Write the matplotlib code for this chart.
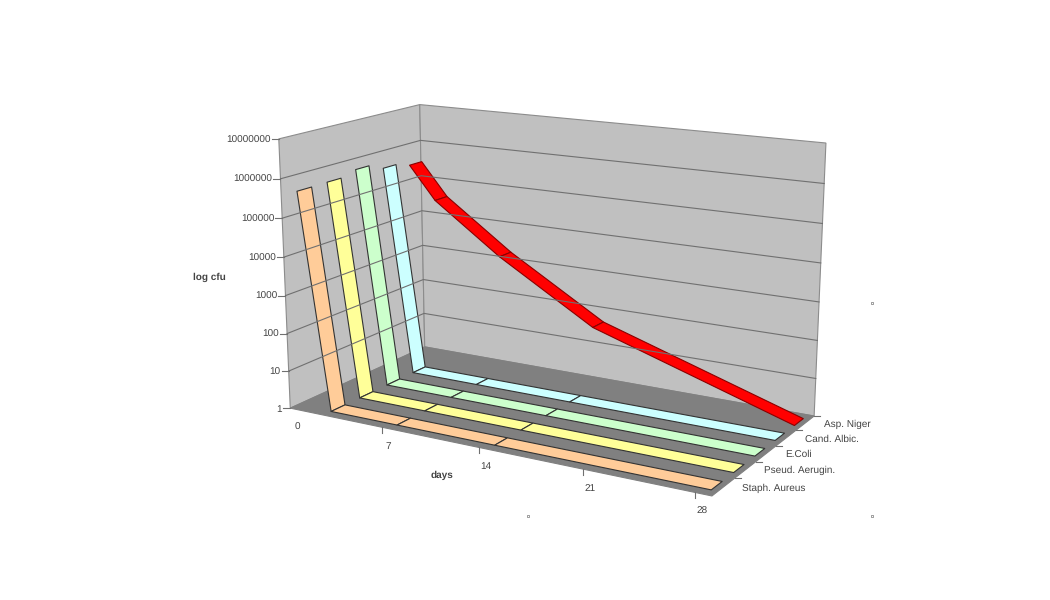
import numpy as np
import matplotlib
matplotlib.use("Agg")
import matplotlib.pyplot as plt
from matplotlib.patches import Polygon

plt.rcParams['font.family'] = ['Liberation Sans', 'DejaVu Sans']
plt.rcParams['text.hinting'] = 'none'
plt.rcParams['text.hinting_factor'] = 1

# Data
series = ["Staph. Aureus", "Pseud. Aerugin.", "E.Coli", "Cand. Albic.", "Asp. Niger"]
days = [0, 2, 7, 14, 28]
staph = [450000, 1, 1, 1, 1]
pseud = [460000, 1, 1, 1, 1]
ecoli = [600000, 1, 1, 1, 1]
candida = [400000, 1, 1, 1, 1]
asp = [300000, 38000, 1800, 50, 1]
colors = ["#FFCC99", "#FFFF99", "#CCFFCC", "#CCFFFF", "#FF0000"]
day_ticks = [0, 7, 14, 21, 28]
y_ticks = [1, 10, 100, 1000, 10000, 100000, 1000000, 10000000]

DAY_MAX = 29.0
DAY_SHIFT = 0.6
Y_DECADES = 7.0

# corners of the box in the picture, used to fit the camera
box = [(0, 0, 0), (0, 1, 0), (0, 0, 1), (0, 1, 1), (1, 0, 1), (1, 1, 1), (1, 0, 0)]
pix = [(290, 408), (279, 139), (425, 347), (419.5, 104.5), (814, 416), (826, 143), (712, 496)]

rows, rhs = [], []
for (X, Y, Z), (u, v) in zip(box, pix):
    rows.append([X, Y, Z, 1, 0, 0, 0, 0, -u * X, -u * Y, -u * Z])
    rows.append([0, 0, 0, 0, X, Y, Z, 1, -v * X, -v * Y, -v * Z])
    rhs += [u, v]
cam = np.linalg.lstsq(np.array(rows, float), np.array(rhs, float), rcond=None)[0]
cam = np.append(cam, 1.0).reshape(3, 4)


def proj(x, y, z):
    p = cam @ np.array([x, y, z, 1.0])
    return p[0] / p[2], p[1] / p[2]


def pt(day, val, z):
    return proj(day / DAY_MAX, np.log10(val) / Y_DECADES, z)


fig = plt.figure(figsize=(10.5, 6), dpi=100)
ax = fig.add_axes([0, 0, 1, 1])
ax.set_xlim(0, 1050)
ax.set_ylim(600, 0)
ax.axis("off")

text_col = "#444444"
line_col = "#707070"

# walls and floor
wall_edge = "#8c8c8c"
ax.add_patch(Polygon([proj(0, 0, 0), proj(0, 1, 0), proj(0, 1, 1), proj(0, 0, 1)], fc="#C0C0C0", ec=wall_edge, lw=0.8))
ax.add_patch(Polygon([proj(0, 0, 1), proj(0, 1, 1), proj(1, 1, 1), proj(1, 0, 1)], fc="#C0C0C0", ec=wall_edge, lw=0.8))
ax.add_patch(Polygon([proj(0, 0, 0), proj(0, 0, 1), proj(1, 0, 1), proj(1, 0, 0)], fc="#808080", ec="#808080", lw=0.8))

# value gridlines and ticks
for t in y_ticks:
    y = np.log10(t) / Y_DECADES
    line = [proj(0, y, 0), proj(0, y, 1), proj(1, y, 1)]
    if 1 < t < y_ticks[-1]:
        ax.plot(*zip(*line), color=line_col, lw=0.8)
    x0, y0 = proj(0, y, 0)
    ax.plot([x0 - 7, x0], [y0, y0], color=line_col, lw=0.8)
    ax.text(x0 - 8, y0 + 1, str(t), ha="right", va="center", fontsize=7.2, color=text_col)

# day ticks
for d in day_ticks:
    x0, y0 = pt(d, 1, 0)
    if d > 0:
        ax.plot([x0, x0], [y0, y0 + 6], color=line_col, lw=0.8)
    ax.text(x0 + 7, y0 + 19, str(d), ha="center", va="center", fontsize=7.2, color=text_col)

# series ticks and labels
for i, name in enumerate(series):
    x0, y0 = proj(1, 0, (i + 1) / 5)
    ax.plot([x0, x0 + 6], [y0, y0], color=line_col, lw=0.8)
    x1, y1 = proj(1, 0, (i + 0.5) / 5)
    ax.text(x1 + 19, y1 + 1, name, ha="left", va="center", fontsize=7.2, color=text_col)

ax.text(209, 277, "log cfu", ha="center", va="center", fontsize=7.2, fontweight="bold", color=text_col)
ax.text(442, 475, "days", ha="center", va="center", fontsize=7.2, fontweight="bold", color=text_col)

# ribbons, back one first
all_vals = [staph, pseud, ecoli, candida, asp]
half = 0.048
for i in range(4, -1, -1):
    zc = (i + 0.5) / 5
    vals = all_vals[i]
    for j in range(len(days) - 1):
        d0, d1 = days[j] + DAY_SHIFT, days[j + 1] + DAY_SHIFT
        quad = [pt(d0, vals[j], zc - half), pt(d0, vals[j], zc + half),
                pt(d1, vals[j + 1], zc + half), pt(d1, vals[j + 1], zc - half)]
        edge = "#8a0000" if i == 4 else "#333333"
        ax.add_patch(Polygon(quad, fc=colors[i], ec=edge, lw=0.8, joinstyle="round"))

# leftover selection marks
ax.plot([872, 528, 872], [303, 516, 516], ls="none", marker="s", ms=2, mfc="white", mec="#555555", mew=0.4)

fig.savefig("out.png", dpi=100)
